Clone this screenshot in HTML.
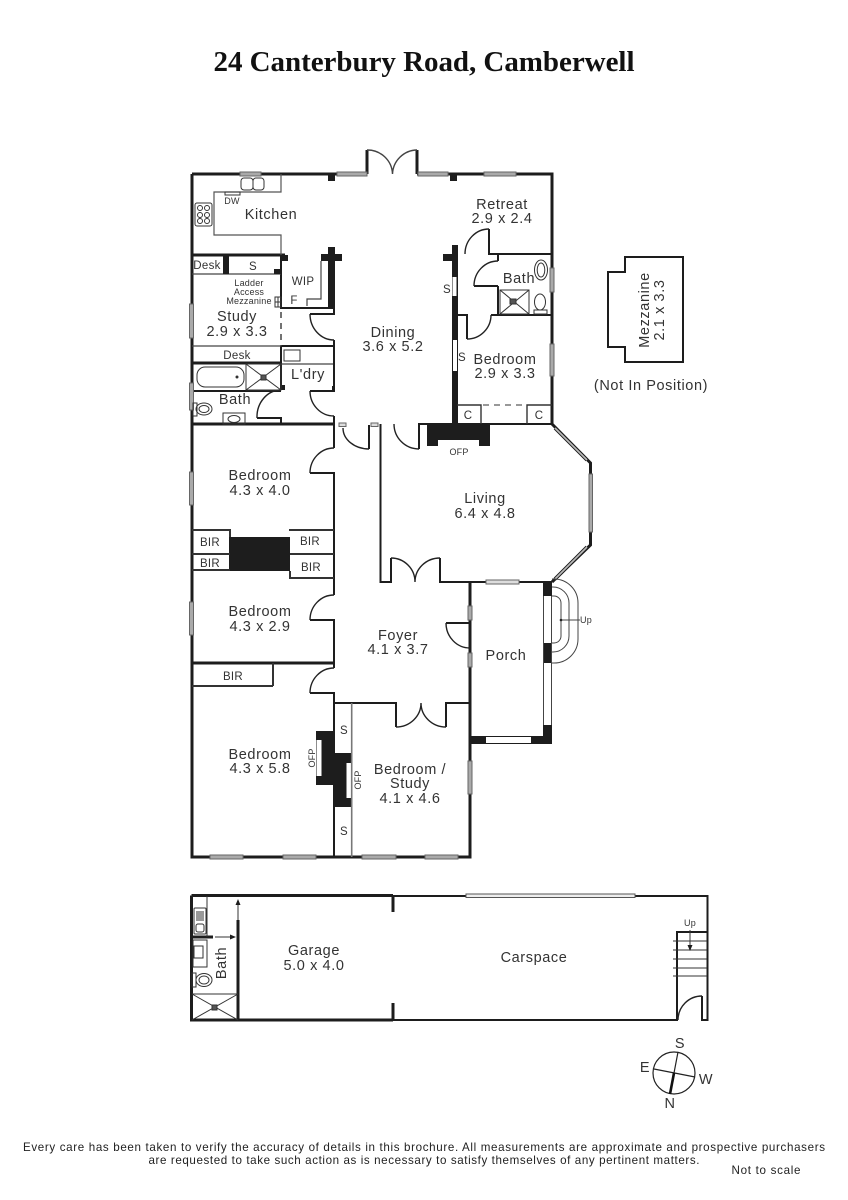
<!DOCTYPE html>
<html><head><meta charset="utf-8"><title>24 Canterbury Road, Camberwell</title>
<style>
html,body{margin:0;padding:0;background:#fff}
svg{display:block}
text{font-family:"Liberation Sans",sans-serif;fill:#333;text-anchor:middle}
.l{font-size:14.5px;letter-spacing:.6px}
.m{font-size:11.5px;letter-spacing:.3px}
.s{font-size:9px;letter-spacing:.2px}
.f{font-size:11.6px;fill:#222}
.w{fill:none;stroke:#1d1d1d;stroke-width:3}
.t{fill:none;stroke:#1d1d1d;stroke-width:2}
.h{fill:none;stroke:#444;stroke-width:1}
.g{fill:none;stroke:#777;stroke-width:1.6}
.k{fill:#1d1d1d}
.win{fill:#aaa;stroke:#666;stroke-width:1}
</style></head><body>
<svg width="848" height="1200" viewBox="0 0 848 1200" xmlns="http://www.w3.org/2000/svg">
<rect width="848" height="1200" fill="#fff"/>
<text x="424" y="71" style="font-family:'Liberation Serif',serif;font-weight:bold;font-size:29px;fill:#111" textLength="421">24 Canterbury Road, Camberwell</text>

<!-- main walls -->
<path class="w" d="M192 174V857H470V582M192 174H367M417 174H552V424M367 174V150M417 174V150"/>
<path class="h" d="M367 150A25 25 0 0 1 392.500 174M417 150A25 25 0 0 0 392.500 174" style="stroke-width:1.400"/>
<path class="w" d="M192 424H334M192 663H334M192 255H285M192 363H281"/>
<path class="t" d="M281 174V192H214V235H281V255" style="stroke:#555;stroke-width:1.200"/>
<path class="t" d="M281 255V308H335M281 308V308M281 346H334M281 346V390M192 391H281"/>
<path class="h" d="M281 312V346" stroke-dasharray="6 5" style="stroke-width:1.500"/>
<path class="h" d="M192 274H281M192 346H281M281 364H334M321 261V299H307V306" style="stroke-width:1.200"/>
<path class="t" d="M334 308V314H310M334 340V392M310 391H334M334 416V424M334 424V448M310 473H334V595M310 620H334V668M310 693H334V857M257 418H281V424M334 703H396V727M446 727V703H470M369 449V425M419 449V424H552M380.500 424V582H391V558M440 558V582H552M470 582V606M470 620V623H446M470 648V653M446 703V727"/>
<path class="h" d="M334 340A24 26 0 0 1 310 314M334 416A24 25 0 0 1 310 391M281 390A24 27 0 0 0 257 418M334 448A24 25 0 0 0 310 473M334 595A24 25 0 0 0 310 620M334 668A24 25 0 0 0 310 693M343 428A26 21 0 0 0 369 449M394 424A25 25 0 0 0 419 449M391 558A24 24 0 0 1 415 582M440 558A25 24 0 0 0 415 582M446 623A24 25 0 0 0 470 648M396 727A25 24 0 0 0 421 703M446 727A25 24 0 0 1 421 703" style="stroke-width:1.400;stroke:#222"/>

<!-- wall blocks -->
<rect class="k" x="328" y="174" width="7" height="7"/><rect class="k" x="450" y="174" width="7" height="7"/>
<rect class="k" x="223" y="255" width="6" height="19"/><rect class="k" x="274" y="269" width="7" height="5"/><rect class="k" x="281" y="255" width="7" height="6"/>
<rect class="k" x="328" y="247" width="7" height="62"/><rect class="k" x="321" y="254" width="21" height="7"/>
<rect class="k" x="332" y="386" width="3" height="5"/><rect class="k" x="281" y="385" width="4" height="5"/>

<!-- right wing -->
<rect class="k" x="452" y="245" width="6" height="180"/><rect class="k" x="443" y="254" width="10" height="7"/>
<rect x="452.500" y="277" width="4" height="19" fill="#fff"/><rect x="453" y="340" width="4" height="31" fill="#fff"/>
<path class="t" d="M489 229V254H552M498 254V261M498 286V315M474 286H498M458 315H467V339M491 315H552" />
<path class="h" d="M489 229A24 25 0 0 0 465 254M498 261A24 25 0 0 0 474 286M467 339A24 24 0 0 0 491 315" style="stroke-width:1.400;stroke:#222"/>
<path class="t" d="M457 405H481V424M527 424V405H552" style="stroke:#333;stroke-width:1.400"/>
<path class="g" d="M483 405H527" stroke-dasharray="6 5"/>
<rect class="k" x="427" y="424" width="63" height="22"/><rect x="438" y="440" width="41" height="6" fill="#fff"/>
<!-- shower + fixtures right -->
<g class="h" style="stroke:#333"><rect x="500" y="290" width="29" height="24" fill="none"/><path d="M500 290L529 314M529 290L500 314"/><rect x="510" y="299" width="6" height="5" fill="#555"/>
<ellipse cx="541" cy="270" rx="6.500" ry="10" fill="none"/><ellipse cx="541" cy="270" rx="3.800" ry="7" fill="none"/>
<ellipse cx="540" cy="302" rx="5.500" ry="8" fill="none"/><rect x="534" y="310" width="13" height="4" fill="none"/></g>

<!-- bay -->
<path class="w" d="M552 424L590.500 463V545L552 582"/>
<path d="M555 428L587 460M555 579L587 547" stroke="#1d1d1d" stroke-width="3.600"/>
<path d="M555 428L587 460M555 579L587 547" stroke="#bbb" stroke-width="1.600"/>
<rect x="589" y="474" width="3.500" height="58" class="win"/>
<rect x="486" y="580" width="33" height="4" fill="#ddd" stroke="#666"/>
<!-- porch -->
<rect class="k" x="543" y="582" width="9" height="14"/><rect class="k" x="543" y="643" width="9" height="20"/><rect class="k" x="543" y="725" width="9" height="19"/><rect class="k" x="470" y="736" width="82" height="8"/>
<rect x="486" y="737" width="45" height="6" fill="#fff"/>
<path class="h" d="M543.500 596V725M551.500 596V725M543.500 596V643"/>
<path class="h" d="M552 579H554A24 24 0 0 1 578 603V639A24 24 0 0 1 554 663H552M552 587H553A16 16 0 0 1 569 603V636A16 16 0 0 1 553 652H552M552 596H554A7 7 0 0 1 561 603V636A7 7 0 0 1 554 643H552M561 620H580"/>
<circle cx="561" cy="620" r="1.300" fill="#222"/>
<text class="s" x="586" y="623">Up</text>

<!-- BIR -->
<rect class="k" x="229" y="537" width="61" height="34"/>
<path class="t" d="M192 530H230V537M192 554H230M192 570H230M290 571V578H334M289 530H334M290 554H334M273 663V686M192 686H273" style="stroke:#333"/>
<!-- bedroom fireplace -->
<rect class="k" x="316" y="731" width="18" height="54"/><rect class="k" x="334" y="753" width="18" height="54"/>
<rect x="316.500" y="740" width="5" height="36" fill="#fff"/><rect x="346.500" y="763" width="5" height="35" fill="#fff"/>
<path class="g" d="M351.700 703V857"/>

<!-- windows -->
<g class="win">
<rect x="240" y="172" width="21" height="4"/><rect x="337" y="172" width="30" height="4"/><rect x="418" y="172" width="30" height="4"/><rect x="484" y="172" width="32" height="4"/>
<rect x="189.500" y="304" width="4" height="34"/><rect x="189.500" y="383" width="4" height="27"/><rect x="189.500" y="472" width="4" height="33"/><rect x="189.500" y="602" width="4" height="33"/>
<rect x="550" y="268" width="4" height="24"/><rect x="550" y="344" width="4" height="32"/>
<rect x="468" y="606" width="4" height="14"/><rect x="468" y="653" width="4" height="14"/><rect x="468" y="761" width="4" height="33"/>
<rect x="210" y="855" width="33" height="4"/><rect x="283" y="855" width="33" height="4"/><rect x="362" y="855" width="34" height="4"/><rect x="425" y="855" width="33" height="4"/>
<rect x="371" y="423" width="7" height="3.500" fill="#ddd"/><rect x="339" y="423" width="7" height="3.500" fill="#ddd"/>
</g>

<!-- kitchen fixtures -->
<g class="h" style="stroke:#333">
<rect x="241" y="178" width="12" height="12" rx="3" fill="none"/><rect x="253" y="178" width="11" height="12" rx="3" fill="none"/>
<rect x="225" y="192" width="15" height="3" fill="none"/>
<rect x="195" y="203" width="17" height="23" rx="2" fill="none"/>
<circle cx="200" cy="208" r="2.500" fill="none"/><circle cx="207" cy="208" r="2.500" fill="none"/><circle cx="200" cy="215" r="2.500" fill="none"/><circle cx="207" cy="215" r="2.500" fill="none"/><circle cx="200" cy="221" r="2.500" fill="none"/><circle cx="207" cy="221" r="2.500" fill="none"/>
<rect x="284" y="350" width="16" height="11" fill="none"/>
<rect x="197" y="367" width="47" height="20" rx="8" fill="none"/><circle cx="237" cy="377" r="1" fill="#222"/>
<rect x="246" y="364" width="35" height="26" fill="none"/><path d="M246 390L281 364M246 364L281 390"/><rect x="261" y="375" width="5" height="5" fill="#555"/>
<rect x="193" y="403" width="4" height="13" fill="none"/><ellipse cx="204" cy="409" rx="8" ry="6" fill="none"/><ellipse cx="204" cy="409" rx="5" ry="3.500" fill="none"/>
<rect x="223" y="413" width="22" height="11" fill="none"/><ellipse cx="234" cy="419" rx="6" ry="3.500" fill="none"/>
<rect x="275" y="297" width="6" height="10" fill="none"/><path d="M275 302H281M278 297V307"/>
</g>

<!-- Mezzanine -->
<path class="t" d="M608 272H625V257H683V362H625V347H608Z"/>

<!-- Garage -->
<path class="w" d="M191.500 895.500H393M191.500 895.500V1020H393M238 920V1020M393 895V912M393 1003V1020M192 937H213"/>
<path class="t" d="M393 896H466M635 896H707.500V1020H702V996M393 1020H677V932H707M677 1020" />
<rect x="466" y="894" width="169" height="3.500" fill="#eee" stroke="#555"/>
<path class="h" d="M207 896V937M673 941H707M673 950H707M673 959H707M673 968H707M673 976H707M238 920V902M215 937H232M690 930V948M192 994H238M192 1020L238 994M192 994L238 1020" style="stroke:#333"/>
<path class="k" d="M238 899l-2.500 6h5zM236 937l-6-2.500v5zM690 951l-2.500-6h5z"/>
<path class="h" d="M678 1020A24 24 0 0 1 702 996" style="stroke-width:1.400;stroke:#222"/>
<g class="h" style="stroke:#333"><rect x="194" y="908" width="12" height="26" rx="1" fill="none"/><rect x="196" y="924" width="8" height="8" rx="2" fill="none"/><path d="M197 911V921M199 911V921M201 911V921M203 911V921"/>
<rect x="193" y="940" width="14" height="27" fill="none"/><rect x="194" y="946" width="9" height="12" fill="none"/>
<rect x="192" y="973" width="4" height="14" fill="none"/><ellipse cx="204" cy="980" rx="8" ry="6.500" fill="none"/><ellipse cx="204" cy="980" rx="5" ry="4" fill="none"/>
<rect x="212" y="1005" width="5" height="5" fill="#555"/></g>

<!-- Compass -->
<circle cx="674" cy="1073" r="21" fill="none" stroke="#222" stroke-width="1.200"/>
<path d="M678 1052L674 1073M654 1069L695 1077" stroke="#222" stroke-width="1.200"/>
<path d="M674 1073L670 1094" stroke="#111" stroke-width="2.600"/>
<g style="font-size:14px"><text x="680" y="1048" class="l">S</text><text x="645" y="1072" class="l">E</text><text x="706" y="1084" class="l">W</text><text x="670" y="1108" class="l">N</text></g>

<!-- labels -->
<g class="l">
<text x="271" y="219">Kitchen</text>
<text x="502" y="209">Retreat</text><text x="502" y="223">2.9 x 2.4</text>
<text x="393" y="337">Dining</text><text x="393" y="351">3.6 x 5.2</text>
<text x="237" y="321">Study</text><text x="237" y="336">2.9 x 3.3</text>
<text x="308" y="379">L'dry</text><text x="235" y="404">Bath</text><text x="519" y="283">Bath</text>
<text x="505" y="364">Bedroom</text><text x="505" y="378">2.9 x 3.3</text>
<text x="485" y="503">Living</text><text x="485" y="518">6.4 x 4.8</text>
<text x="260" y="480">Bedroom</text><text x="260" y="495">4.3 x 4.0</text>
<text x="260" y="616">Bedroom</text><text x="260" y="631">4.3 x 2.9</text>
<text x="398" y="640">Foyer</text><text x="398" y="654">4.1 x 3.7</text>
<text x="506" y="660">Porch</text>
<text x="260" y="759">Bedroom</text><text x="260" y="773">4.3 x 5.8</text>
<text x="410" y="774">Bedroom /</text><text x="410" y="788">Study</text><text x="410" y="803">4.1 x 4.6</text>
<text x="314" y="955">Garage</text><text x="314" y="970">5.0 x 4.0</text>
<text x="534" y="962">Carspace</text>
<text transform="translate(226 963) rotate(-90)">Bath</text>
<text transform="translate(649 310) rotate(-90)">Mezzanine</text>
<text transform="translate(664 310) rotate(-90)">2.1 x 3.3</text>
<text x="651" y="390">(Not In Position)</text>
</g>
<g class="m">
<text x="207" y="269">Desk</text><text x="253" y="270">S</text><text x="303" y="285">WIP</text><text x="294" y="304">F</text><text x="237" y="359">Desk</text>
<text x="447" y="293">S</text><text x="462" y="361">S</text><text x="468" y="419">C</text><text x="539" y="419">C</text>
<text x="210" y="546">BIR</text><text x="310" y="545">BIR</text><text x="210" y="567">BIR</text><text x="311" y="571">BIR</text><text x="233" y="680">BIR</text>
<text x="344" y="734">S</text><text x="344" y="835">S</text>
</g>
<g class="s">
<text x="249" y="286">Ladder</text><text x="249" y="295">Access</text><text x="249" y="304">Mezzanine</text>
<text x="232" y="204">DW</text><text x="459" y="455">OFP</text>
<text transform="translate(315 758) rotate(-90)">OFP</text>
<text transform="translate(361 780) rotate(-90)">OFP</text>
<text x="690" y="926">Up</text>
</g>

<!-- footer -->
<text class="f" x="424" y="1151" textLength="802">Every care has been taken to verify the accuracy of details in this brochure.  All measurements are approximate and prospective purchasers</text>
<text class="f" x="424" y="1164" textLength="551">are requested to take such action as is necessary to satisfy themselves of any pertinent matters.</text>
<text class="f" x="766" y="1174" textLength="69">Not to scale</text>
</svg>
</body></html>
